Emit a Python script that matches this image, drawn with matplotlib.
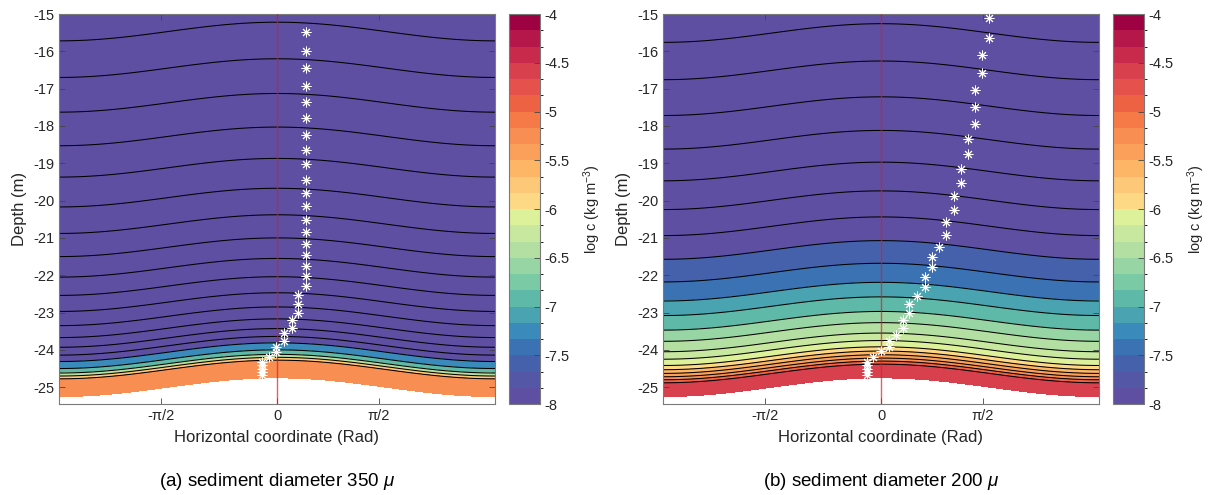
import numpy as np
import matplotlib
matplotlib.use('Agg')
import matplotlib.pyplot as plt
from matplotlib.colors import ListedColormap, BoundaryNorm
from matplotlib.cm import ScalarMappable

plt.rcParams['font.family'] = 'Liberation Sans'
plt.rcParams['mathtext.fontset'] = 'custom'
plt.rcParams['mathtext.rm'] = 'Liberation Sans'
plt.rcParams['mathtext.it'] = 'Liberation Sans:italic'
plt.rcParams['axes.unicode_minus'] = False
plt.rcParams['contour.negative_linestyle'] = 'solid'

# rippled bed (m): mean depth and amplitude, x in rad over one ripple
bed_mean = -25.0
bed_amp = 0.25

# colour bar: log c from -8 to -4, 24 bands
cbar_ticks = [-8, -7.5, -7, -6.5, -6, -5.5, -5, -4.5, -4]
band_colors = ['#5E4FA2', '#5456A6', '#4661AC', '#3A72B4', '#3A8ABC', '#4AA3B1',
               '#5FB9A8', '#7ACBA5', '#98D5A4', '#B3DFA2', '#C8E8A0', '#DDF09A',
               '#FDD985', '#FDC877', '#FDB666', '#FBA05A', '#F98E52', '#F67A48',
               '#EE6244', '#E4524B', '#D8404E', '#C82A4C', '#B5174A', '#9E0142']

# (a) 350 micron: height above bed (m) of each contour line and its log c
height_a = [0.0, 0.48, 0.55, 0.63, 0.75, 0.94, 1.11, 1.32, 1.58, 1.9, 2.28,
            2.71, 3.2, 3.75, 4.37, 5.08, 5.88, 6.72, 7.62, 8.55, 9.53, 10.6]
logc_a = [-5.2, -5.25, -5.75, -6.4, -6.9, -7.25, -9, -10, -11, -12, -13,
          -14, -15, -16, -17, -18, -19, -20, -21, -22, -23, -24]

# (b) 200 micron
height_b = [0.0, 0.37, 0.45, 0.53, 0.62, 0.72, 0.83, 1.0, 1.2, 1.48, 1.78, 2.17,
            2.56, 3.07, 3.68, 4.31, 5.01, 5.78, 6.63, 7.53, 8.49, 9.49, 10.6]
logc_b = [-4.5, -4.6, -4.95, -5.3, -5.45, -5.6, -5.95, -6.1, -6.25, -6.4, -6.6, -6.9,
          -7.1, -7.4, -7.6, -14, -15, -16, -17, -18, -19, -20, -21]

# particle positions (rad, m)
ast_x_a = [0.42] * 19 + [0.30, 0.30, 0.30, 0.21, 0.21, 0.10, 0.10, -0.01, -0.01,
                         -0.11, -0.21, -0.21, -0.21, -0.21, -0.21]
ast_z_a = [-15.48, -15.99, -16.45, -16.93, -17.37, -17.80, -18.23, -18.65, -19.03,
           -19.44, -19.79, -20.15, -20.51, -20.83, -21.16, -21.47, -21.75, -22.03,
           -22.30, -22.53, -22.77, -23.02, -23.20, -23.42, -23.56, -23.76, -23.92,
           -24.05, -24.19, -24.32, -24.41, -24.50, -24.59, -24.68]

ast_x_b = [1.55, 1.55, 1.46, 1.46, 1.36, 1.36, 1.36, 1.25, 1.25, 1.15, 1.15, 1.05,
           1.05, 0.94, 0.94, 0.84, 0.73, 0.73, 0.63, 0.63, 0.52, 0.41, 0.41, 0.32,
           0.32, 0.21, 0.11, 0.11, 0.0, -0.11, -0.20, -0.20, -0.20, -0.20, -0.20]
ast_z_b = [-15.12, -15.63, -16.10, -16.59, -17.03, -17.49, -17.94, -18.34, -18.76,
           -19.15, -19.52, -19.88, -20.26, -20.58, -20.91, -21.23, -21.51, -21.79,
           -22.05, -22.32, -22.55, -22.77, -23.00, -23.20, -23.42, -23.60, -23.76,
           -23.93, -24.02, -24.19, -24.32, -24.41, -24.50, -24.59, -24.68]

xtick_pos = [-1.67, 0, 1.47]
xtick_lab = ['-\u03c0/2', '0', '\u03c0/2']

cmap = ListedColormap(band_colors)
bounds = np.linspace(-8, -4, 25)
norm = BoundaryNorm(bounds, cmap.N)

x = np.linspace(-np.pi, np.pi, 361)
h = np.linspace(0, 10.6, 1500)
X, H = np.meshgrid(x, h)
Z = bed_mean + bed_amp * np.cos(X) + H

txt = '#262626'
edge = '#7a7a7a'


def draw_panel(ax, cax, heights, logc, ast_x, ast_z, caption, xc):
    F = np.interp(H, heights, logc)
    lines = sorted(logc[1:-1])
    levels = [-40] + lines + [-4.0]
    # band coloured by its lower level, like MATLAB contourf
    cols = [cmap(norm(l)) for l in levels[:-1]]
    ax.contourf(X, Z, F, levels=levels, colors=cols)
    ax.contour(X, Z, F, levels=lines, colors='k', linewidths=0.75,
               linestyles='solid')
    ax.axvline(0, color='#e01a22', lw=1.0, alpha=0.7, zorder=3)
    ax.plot(ast_x, ast_z, ls='none', marker=(8, 2, 0), ms=7, mec='white',
            mew=0.7, zorder=4)

    ax.set_xlim(-np.pi, np.pi)
    ax.set_ylim(-25.45, -15)
    ax.set_yticks(np.arange(-25, -14, 1))
    ax.set_xticks(xtick_pos)
    ax.set_xticklabels(xtick_lab)
    ax.tick_params(direction='in', top=True, right=True, length=4, width=0.6,
                   color='#444444', labelcolor=txt, labelsize=10.5)
    for s in ax.spines.values():
        s.set_color(edge)
        s.set_linewidth(0.8)
    ax.set_xlabel('Horizontal coordinate (Rad)', fontsize=12, color=txt, labelpad=5)
    ax.set_ylabel('Depth (m)', fontsize=12, color=txt, labelpad=4)

    cb = plt.colorbar(ScalarMappable(norm=norm, cmap=cmap), cax=cax,
                      ticks=cbar_ticks)
    cb.ax.set_yticklabels(['%g' % t for t in cbar_ticks])
    cb.ax.tick_params(direction='in', length=4, width=0.6, color='#444444',
                      labelcolor=txt, labelsize=10.5)
    cb.outline.set_edgecolor(edge)
    cb.outline.set_linewidth(0.8)
    cb.set_label('log c (kg m$^{-3}$)', fontsize=10.5, color=txt, labelpad=8)

    plt.gcf().text(xc, 1 - 482 / 495, caption, ha='center', va='center',
                   fontsize=13.5, color='black')


fig = plt.figure(figsize=(12.09, 4.95), dpi=100)
ax_a = fig.add_axes([59 / 1209, 1 - 404 / 495, 436 / 1209, 390 / 495])
cax_a = fig.add_axes([509 / 1209, 1 - 404 / 495, 31 / 1209, 390 / 495])
ax_b = fig.add_axes([663 / 1209, 1 - 404 / 495, 436 / 1209, 390 / 495])
cax_b = fig.add_axes([1113 / 1209, 1 - 404 / 495, 31 / 1209, 390 / 495])

draw_panel(ax_a, cax_a, height_a, logc_a, ast_x_a, ast_z_a,
           r'(a) sediment diameter 350 $\mu$', 277 / 1209)
draw_panel(ax_b, cax_b, height_b, logc_b, ast_x_b, ast_z_b,
           r'(b) sediment diameter 200 $\mu$', 881 / 1209)

fig.savefig('out.png', dpi=100)
